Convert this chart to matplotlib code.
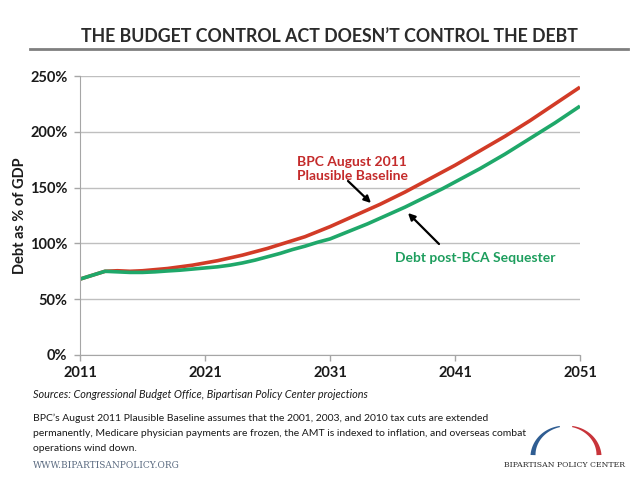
import matplotlib
matplotlib.use("Agg")
import matplotlib.pyplot as plt
from matplotlib.lines import Line2D
from matplotlib.patches import Polygon
from matplotlib.ticker import FuncFormatter
import numpy as np

years = list(range(2011, 2052))
baseline = [68, 71.5, 75, 75.5, 75, 75.5, 76.5, 77.5, 79, 80.5,
            82.5, 84.5, 87, 89.5, 92.5, 95.5, 99, 102.5, 106, 110.5,
            115, 120, 125, 130, 135, 140.5, 146, 152, 158, 164,
            170, 176.5, 183, 189.5, 196, 203, 210, 217.5, 225, 232.5, 240]
sequester = [68, 71.5, 75, 74.5, 74, 74, 74.5, 75.3, 76, 77,
             78, 79, 80.5, 82.5, 85, 88, 91, 94.5, 97.5, 101,
             104, 108.5, 113, 117.5, 122.5, 127.5, 132.5, 138, 143.5, 149,
             155, 161, 167, 173.5, 180, 187, 194, 201, 208, 215.5, 223]
xticks = [2011, 2021, 2031, 2041, 2051]
yticks = [0, 50, 100, 150, 200, 250]

RED = "#D23B27"
GREEN = "#1FA86A"
FONT = "Lato"
W, H = 640, 480

def fx(px):
    return px / W

def fy(py):
    return 1 - py / H

fig = plt.figure(figsize=(6.4, 4.8), dpi=100)
ax = fig.add_axes([fx(80), fy(355), 500 / W, (355 - 76) / H])

ax.plot(years, baseline, color=RED, lw=2.6, solid_capstyle="butt")
ax.plot(years, sequester, color=GREEN, lw=2.6, solid_capstyle="butt")

ax.set_xlim(2011, 2051)
ax.set_ylim(0, 250)
ax.set_xticks(xticks)
ax.set_yticks(yticks)
ax.yaxis.set_major_formatter(FuncFormatter(lambda v, p: f"{int(v)}%"))
ax.grid(axis="y", color="#BFBFBF", lw=1)
ax.set_axisbelow(True)
for s in ["top", "right"]:
    ax.spines[s].set_visible(False)
for s in ["left", "bottom"]:
    ax.spines[s].set_color("#A6A6A6")
ax.tick_params(axis="both", colors="#A6A6A6", length=4, width=1)
for lab in ax.get_xticklabels() + ax.get_yticklabels():
    lab.set_fontfamily(FONT)
    lab.set_fontweight("bold")
    lab.set_fontsize(10.5)
    lab.set_color("#1a1a1a")
ax.tick_params(axis="x", pad=4)
ax.tick_params(axis="y", pad=5)
ax.set_ylabel("Debt as % of GDP", fontfamily=FONT, fontweight="bold",
              fontsize=10.5, color="#1a1a1a", labelpad=2)

# annotations
ax.text(0.434, 0.667, "BPC August 2011\nPlausible Baseline", transform=ax.transAxes,
        color="#C42B2B", fontfamily=FONT, fontweight="bold", fontsize=10,
        ha="left", va="center", linespacing=1.2)
arrow_kw = dict(arrowstyle="-|>", color="black", lw=1.6, mutation_scale=10,
                shrinkA=0, shrinkB=0)
fig.add_artist(plt.Annotation("", xy=(fx(371), fy(203)), xytext=(fx(348), fy(181)),
               xycoords="figure fraction", textcoords="figure fraction",
               arrowprops=arrow_kw))
ax.text(0.63, 0.348, "Debt post-BCA Sequester", transform=ax.transAxes,
        color="#1E9E5E", fontfamily=FONT, fontweight="bold", fontsize=10,
        ha="left", va="center")
fig.add_artist(plt.Annotation("", xy=(fx(408), fy(213)), xytext=(fx(439), fy(244)),
               xycoords="figure fraction", textcoords="figure fraction",
               arrowprops=arrow_kw))

# title
fig.text(fx(329), fy(37), "THE BUDGET CONTROL ACT DOESN\u2019T CONTROL THE DEBT",
         ha="center", va="center", fontfamily=FONT,
         fontweight="bold", fontsize=12.8, color="#2b2b2b")
fig.add_artist(Line2D([fx(30), fx(628)], [fy(49), fy(49)], color="#7f7f7f", lw=2))

# footer
fig.text(fx(33), fy(395),
         "Sources: Congressional Budget Office, Bipartisan Policy Center projections",
         ha="left", va="center", fontfamily=FONT, fontstyle="italic", fontsize=7.8,
         color="#1a1a1a")
fig.text(fx(33), fy(414),
         "BPC\u2019s August 2011 Plausible Baseline assumes that the 2001, 2003, and 2010 tax cuts are extended\n"
         "permanently, Medicare physician payments are frozen, the AMT is indexed to inflation, and overseas combat\n"
         "operations wind down.",
         ha="left", va="top", fontfamily=FONT, fontsize=7.5, color="#1a1a1a",
         linespacing=1.8)
fig.text(fx(33), fy(466), "WWW.BIPARTISANPOLICY.ORG", ha="left", va="center",
         fontfamily="DejaVu Serif", fontsize=6.5, color="#5a6a80")
fig.text(fx(564), fy(465), "BIPARTISAN POLICY CENTER", ha="center", va="center",
         fontfamily="DejaVu Serif", fontsize=5.6, color="#2b2b2b")

# logo arch (tapered)
def arc_poly(a0, a1, color):
    cx, cy, rx, ry = 566, 456, 33, 30
    t = np.linspace(a0, a1, 40)
    w = np.linspace(5, 1.2, 40)
    ox = cx + (rx + w / 2) * np.cos(t)
    oy = cy - (ry + w / 2) * np.sin(t)
    ix = cx + (rx - w / 2) * np.cos(t)
    iy = cy - (ry - w / 2) * np.sin(t)
    xs = np.concatenate([ox, ix[::-1]])
    ys = np.concatenate([oy, iy[::-1]])
    pts = np.column_stack([fx(xs), fy(ys)])
    fig.add_artist(Polygon(pts, closed=True, facecolor=color, edgecolor="none",
                           transform=fig.transFigure))

arc_poly(np.pi * 0.99, np.pi * 0.56, "#2F5D92")
arc_poly(np.pi * 0.01, np.pi * 0.44, "#C8343A")

fig.savefig("out.png", dpi=100)
